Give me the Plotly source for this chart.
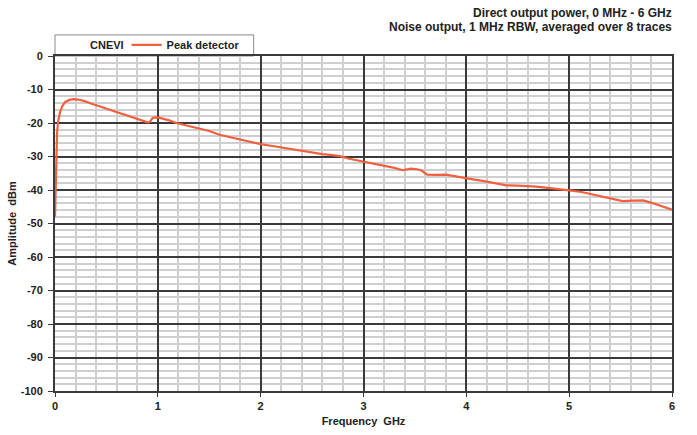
import plotly.graph_objects as go

freq_ghz = [0, 0.005, 0.01, 0.02, 0.03, 0.05, 0.07, 0.1, 0.14, 0.18, 0.22, 0.28, 0.35, 0.43, 0.51,
            0.6, 0.7, 0.78, 0.87, 0.9, 0.92, 0.95, 0.98, 1.01, 1.11, 1.18, 1.3, 1.41, 1.5, 1.6,
            1.7, 1.8, 1.9, 2.0, 2.1, 2.22, 2.3, 2.41, 2.5, 2.6, 2.7, 2.77, 2.85, 2.9, 3.0,
            3.1, 3.19, 3.3, 3.38, 3.46, 3.52, 3.56, 3.62, 3.7, 3.8, 3.9, 4.0, 4.08, 4.16, 4.28,
            4.39, 4.5, 4.58, 4.68, 4.77, 4.88, 5.0, 5.12, 5.23, 5.35, 5.45, 5.52, 5.62, 5.72,
            5.81, 5.9, 6.0]
peak_dbm = [-48, -40, -33, -23, -19.5, -16.7, -15, -13.7, -13.1, -12.9, -13.0, -13.4, -14.2, -15.0, -15.7,
            -16.6, -17.7, -18.5, -19.5, -19.8, -19.7, -18.5, -18.3, -18.4, -19.2, -20.0, -20.9, -21.7, -22.4, -23.5,
            -24.2, -25.0, -25.7, -26.3, -26.8, -27.4, -27.9, -28.4, -28.8, -29.3, -29.6, -29.9, -30.6, -30.9, -31.4,
            -32.0, -32.6, -33.4, -34.1, -33.6, -33.8, -34.1, -35.4, -35.5, -35.4, -36.0, -36.6, -36.9, -37.3, -37.9,
            -38.6, -38.7, -38.8, -39.0, -39.3, -39.6, -40.1, -40.6, -41.3, -42.0, -42.8, -43.3, -43.2, -43.1,
            -43.9, -44.8, -45.9]

x_ticks = [0, 1, 2, 3, 4, 5, 6]
y_ticks = [0, -10, -20, -30, -40, -50, -60, -70, -80, -90, -100]
title_lines = ["Direct output power, 0 MHz - 6 GHz",
               "Noise output, 1 MHz RBW, averaged over 8 traces"]

FONT = "Liberation Sans, Arial, sans-serif"
DARK = "#3a3a3a"
TXT = "#222"

fig = go.Figure()
fig.add_trace(go.Scatter(
    x=freq_ghz, y=peak_dbm, mode="lines", name="Peak detector",
    line=dict(color="#f0603f", width=2.2),
))

fig.update_layout(
    width=697, height=435,
    margin=dict(l=55, r=25, t=56, b=44, autoexpand=False),
    paper_bgcolor="white", plot_bgcolor="white",
    font=dict(family=FONT, size=11, color=TXT, weight="bold"),
    showlegend=True,
    legend=dict(
        x=0.116, xanchor="left", y=1.033, yanchor="middle",
        orientation="h",
        bgcolor="rgba(0,0,0,0)", borderwidth=0,
        font=dict(family=FONT, size=11, color=TXT, weight="bold"),
        itemwidth=30,
    ),
    shapes=[dict(
        type="rect", xref="paper", yref="paper",
        x0=0, x1=0.322, y0=1.0, y1=1.063,
        line=dict(color="#8a8a8a", width=1), fillcolor="white", layer="below",
    )],
    annotations=[
        dict(
            text=title_lines[0], xref="paper", yref="paper", x=1.003, y=1.128,
            xanchor="right", yanchor="middle", showarrow=False,
            font=dict(family=FONT, size=12, color=TXT, weight="bold"),
        ),
        dict(
            text=title_lines[1], xref="paper", yref="paper", x=1.003, y=1.0866,
            xanchor="right", yanchor="middle", showarrow=False,
            font=dict(family=FONT, size=12, color=TXT, weight="bold"),
        ),
        dict(
            text="CNEVI", xref="paper", yref="paper", x=0.084, y=1.033,
            xanchor="center", yanchor="middle", showarrow=False,
            font=dict(family=FONT, size=11, color=TXT, weight="bold"),
        ),
    ],
)

fig.update_xaxes(
    range=[0, 6], tickvals=x_ticks, ticktext=[str(v) for v in x_ticks],
    showgrid=True, gridcolor=DARK, gridwidth=2,
    minor=dict(dtick=0.2, showgrid=True, gridcolor="#cfcfcf", gridwidth=1.5),
    showline=True, mirror=True, linecolor=DARK, linewidth=2,
    ticks="outside", ticklen=4, tickcolor=DARK, tickwidth=1,
    zeroline=False, automargin=False,
    title=dict(text="Frequency  GHz", standoff=6,
               font=dict(family=FONT, size=11, color=TXT, weight="bold")),
    tickfont=dict(family=FONT, size=11, color=TXT, weight="bold"),
)
fig.update_yaxes(
    range=[-100, 0], tickvals=y_ticks, ticktext=[str(v) for v in y_ticks],
    showgrid=True, gridcolor=DARK, gridwidth=2,
    minor=dict(dtick=2, showgrid=True, gridcolor="#cfcfcf", gridwidth=1.5),
    showline=True, mirror=True, linecolor=DARK, linewidth=2,
    ticks="outside", ticklen=5, tickcolor=DARK, tickwidth=1,
    ticklabelstandoff=3,
    zeroline=False, automargin=False,
    title=dict(text="Amplitude  dBm", standoff=2,
               font=dict(family=FONT, size=11, color=TXT, weight="bold")),
    tickfont=dict(family=FONT, size=11, color=TXT, weight="bold"),
)

fig.write_html("out.html", config={"displayModeBar": False},
               post_script="document.body.style.margin='0px';")
